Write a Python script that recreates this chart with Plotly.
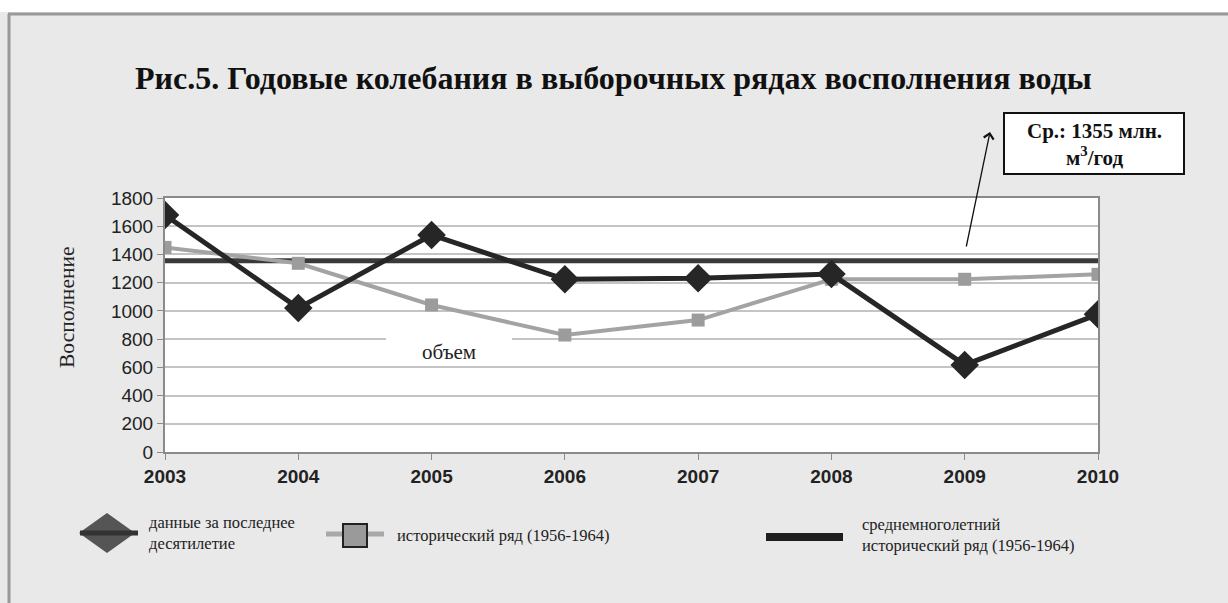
import plotly.graph_objects as go

years = [2003, 2004, 2005, 2006, 2007, 2008, 2009, 2010]
recent = [1680, 1020, 1538, 1224, 1231, 1261, 617, 976]
historic = [1450, 1337, 1042, 829, 935, 1224, 1224, 1259]
mean_value = 1355
mean_series = [mean_value] * len(years)
y_ticks = [0, 200, 400, 600, 800, 1000, 1200, 1400, 1600, 1800]

title = "Рис.5. Годовые колебания в выборочных рядах восполнения воды"
legend_labels = ["данные за последнее<br>десятилетие",
                 "исторический ряд (1956-1964)",
                 "среднемноголетний<br>исторический ряд (1956-1964)"]

W, H = 1228, 603
L, R, T, B = 165, 130, 198, 151
PW, PH = W - L - R, H - T - B

fig = go.Figure()
fig.add_trace(go.Scatter(x=years, y=mean_series, mode="lines",
                         line=dict(color="#3a3a3a", width=5), showlegend=False))
fig.add_trace(go.Scatter(x=years, y=historic, mode="lines+markers",
                         line=dict(color="#a3a3a3", width=4),
                         marker=dict(symbol="square", size=13, color="#9c9c9c"),
                         showlegend=False))
fig.add_trace(go.Scatter(x=years, y=recent, mode="lines+markers",
                         line=dict(color="#262626", width=5),
                         marker=dict(symbol="diamond", size=22, color="#262626"),
                         showlegend=False))

def px(xp, yp):
    return (xp - L) / PW, (H - B - yp) / PH

shapes = []
# outer frame
shapes.append(dict(type="rect", xref="paper", yref="paper", x0=px(0, 0)[0], x1=px(W, 0)[0],
                   y0=px(0, 12)[1], y1=px(0, 0)[1], fillcolor="white", line=dict(width=0), layer="below"))
shapes.append(dict(type="line", xref="paper", yref="paper", x0=px(8, 0)[0], x1=px(W, 0)[0],
                   y0=px(0, 14)[1], y1=px(0, 14)[1], line=dict(color="#999999", width=3)))
shapes.append(dict(type="line", xref="paper", yref="paper", x0=px(9, 0)[0], x1=px(9, 0)[0],
                   y0=px(0, H)[1], y1=px(0, 14)[1], line=dict(color="#999999", width=3)))
def seg(x0, x1, y, color, w):
    a = px(x0, y); b = px(x1, y)
    return dict(type="line", xref="paper", yref="paper", x0=a[0], y0=a[1], x1=b[0], y1=b[1],
                line=dict(color=color, width=w))
# legend item 1: diamond
cx, cy = 107, 533
dpts = [px(cx, cy - 20), px(cx + 28, cy), px(cx, cy + 20), px(cx - 28, cy)]
path = "M " + " L ".join(f"{p[0]},{p[1]}" for p in dpts) + " Z"
shapes.append(dict(type="path", xref="paper", yref="paper", path=path,
                   fillcolor="#555555", line=dict(width=0)))
shapes.append(seg(80, 138, 533, "#333333", 5))
# legend item 2: square
shapes.append(seg(326, 384, 534, "#a8a8a8", 5))
a = px(343, 524); b = px(367, 547)
shapes.append(dict(type="rect", xref="paper", yref="paper", x0=a[0], y0=a[1], x1=b[0], y1=b[1],
                   fillcolor="#9a9a9a", line=dict(color="#222222", width=2)))
# legend item 3: thick line
shapes.append(seg(766, 843, 537, "#1e1e1e", 8))
# white box behind "объем" (hides part of the 800 gridline)
a = px(386, 334); b = px(512, 364)
shapes.append(dict(type="rect", xref="paper", yref="paper", x0=a[0], y0=a[1], x1=b[0], y1=b[1],
                   fillcolor="white", line=dict(width=0), layer="above"))
# callout box
a = px(1004, 113); b = px(1184, 174)
shapes.append(dict(type="rect", xref="paper", yref="paper", x0=a[0], y0=a[1], x1=b[0], y1=b[1],
                   fillcolor="white", line=dict(color="#111111", width=2)))

annotations = []
annotations.append(dict(text="<b>" + title + "</b>", xref="paper", yref="paper",
                        x=px(613, 0)[0], y=px(0, 78)[1], xanchor="center", yanchor="middle",
                        showarrow=False, font=dict(family="Liberation Serif", size=32, color="#111111")))
annotations.append(dict(text="объем", xref="paper", yref="paper",
                        x=px(449, 0)[0], y=px(0, 352)[1], xanchor="center", yanchor="middle",
                        showarrow=False, font=dict(family="Liberation Serif", size=21, color="#222222")))
annotations.append(dict(text="Восполнение", xref="paper", yref="paper", textangle=-90,
                        x=px(67, 0)[0], y=px(0, 308)[1], xanchor="center", yanchor="middle",
                        showarrow=False, font=dict(family="Liberation Serif", size=21.5, color="#222222")))
annotations.append(dict(text="<b>Ср.: 1355 млн.<br>м<sup>3</sup>/год</b>", xref="paper", yref="paper",
                        x=px(1094, 0)[0], y=px(0, 144)[1], xanchor="center", yanchor="middle",
                        showarrow=False, align="center",
                        font=dict(family="Liberation Serif", size=21, color="#111111")))
annotations.append(dict(text="", xref="paper", yref="paper", axref="pixel", ayref="pixel",
                        x=px(990, 0)[0], y=px(0, 132)[1], ax=-24, ay=116,
                        showarrow=True, arrowhead=4, arrowsize=1.5, arrowwidth=1.3,
                        arrowcolor="#111111"))
for xp, yp, txt in [(147, 533, legend_labels[0]), (395, 535, legend_labels[1]), (860, 535, legend_labels[2])]:
    annotations.append(dict(text=txt, xref="paper", yref="paper",
                            x=px(xp, 0)[0], y=px(0, yp)[1], xanchor="left", yanchor="middle",
                            showarrow=False, align="left",
                            font=dict(family="Liberation Serif", size=16.5, color="#222222")))

fig.update_layout(
    width=W, height=H,
    margin=dict(l=L, r=R, t=T, b=B),
    paper_bgcolor="#e9e9e9", plot_bgcolor="white",
    shapes=shapes, annotations=annotations,
    xaxis=dict(range=[2003, 2010], tickvals=years, ticktext=[f"<b>{y}</b>" for y in years],
               showgrid=False, zeroline=False, showline=True, linecolor="#8a8a8a", linewidth=2,
               mirror=True, ticks="outside", ticklen=6, tickcolor="#8a8a8a",
               tickfont=dict(family="Liberation Sans", size=19, color="#222222")),
    yaxis=dict(range=[0, 1800], tickvals=y_ticks, showgrid=True, gridcolor="#c4c4c4", gridwidth=1.5,
               zeroline=False, showline=True, linecolor="#8a8a8a", linewidth=2, mirror=True,
               ticks="outside", ticklen=6, tickcolor="#8a8a8a",
               tickfont=dict(family="Liberation Sans", size=19, color="#222222")),
    showlegend=False,
)

fig.write_html("out.html", config={"displayModeBar": False},
               post_script="document.body.style.margin='0';document.body.style.overflow='hidden';")
